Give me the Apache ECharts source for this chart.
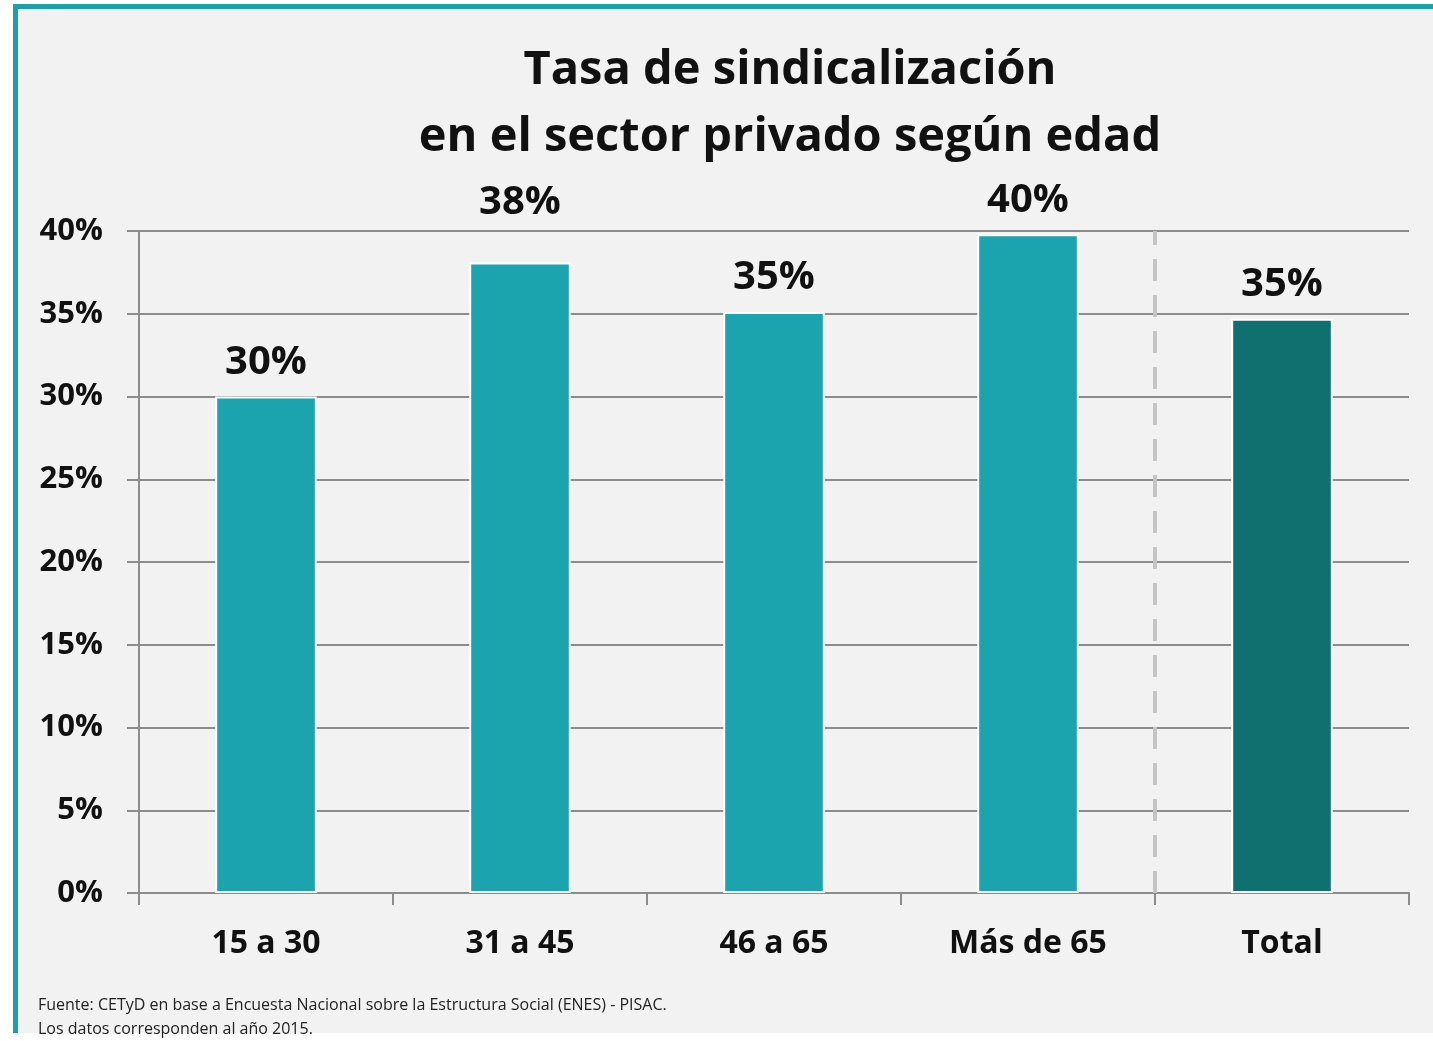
<!DOCTYPE html>
<html>
<head>
<meta charset="utf-8">
<script src="https://cdn.jsdelivr.net/npm/echarts@6/dist/echarts.min.js"></script>
<style>
  html, body { margin: 0; padding: 0; background: #ffffff; }
  #panel {
    position: absolute; left: 13px; top: 4px; width: 1420px; height: 1029px;
    background: #f2f2f2; border-left: 5px solid #1ba1a9; border-top: 5px solid #1ba1a9;
    box-sizing: border-box;
  }
  #chart { position: absolute; left: 0; top: 0; width: 1433px; height: 1041px; }
</style>
</head>
<body>
<div id="panel"></div>
<div id="chart"></div>
<script>
// 数据
var categories = ['15 a 30', '31 a 45', '46 a 65', 'Más de 65', 'Total'];
var values = [30.0, 38.1, 35.1, 39.8, 34.7];
var barColors = ['#1ba3ae', '#1ba3ae', '#1ba3ae', '#1ba3ae', '#0f706f'];
var yTicks = [0, 5, 10, 15, 20, 25, 30, 35, 40];
var separatorAt = [4];

var chart = echarts.init(document.getElementById('chart'));

// 31 a 45 的标签在原图中抬高了，避开 40% 网格线
var barData = values.map(function (v, i) {
  var item = { value: v };
  if (i === 1) item.label = { distance: 40 };
  return item;
});

var option = {
  backgroundColor: 'transparent',
  textStyle: { fontFamily: 'Open Sans' },
  title: [{
    text: 'Tasa de sindicalización\nen el sector privado según edad',
    left: 785, top: 32, textAlign: 'center',
    textStyle: { fontSize: 47, fontWeight: 'bold', color: '#111', lineHeight: 67, fontFamily: 'Open Sans' }
  }, {
    text: 'Fuente: CETyD en base a Encuesta Nacional sobre la Estructura Social (ENES) - PISAC.\nLos datos corresponden al año 2015.',
    left: 33, top: 988,
    textStyle: { fontSize: 16, fontWeight: 'normal', color: '#222', lineHeight: 24, fontFamily: 'Open Sans' }
  }],
  grid: { left: 139, right: 24, top: 231, bottom: 148, containLabel: false },
  xAxis: [{
    type: 'category',
    data: categories,
    axisLine: { lineStyle: { color: '#8c8c8c', width: 2 } },
    axisTick: { show: true, length: 12, lineStyle: { color: '#8c8c8c', width: 2 } },
    axisLabel: { margin: 35, fontSize: 32, fontWeight: 'bold', color: '#111' }
  }, {
    type: 'value', min: 0, max: categories.length, show: false
  }],
  yAxis: {
    type: 'value', min: 0, max: 40, interval: 5,
    axisLine: { show: true, lineStyle: { color: '#8c8c8c', width: 2 } },
    axisTick: { show: true, length: 12, lineStyle: { color: '#8c8c8c', width: 2 } },
    splitLine: { show: true, lineStyle: { color: '#8c8c8c', width: 2 } },
    axisLabel: {
      margin: 36, fontSize: 31, fontWeight: 'bold', color: '#111',
      formatter: function (v) { return yTicks.indexOf(v) >= 0 ? v + '%' : ''; }
    }
  },
  series: [{
    type: 'bar',
    data: barData,
    barWidth: '40%',
    itemStyle: {
      borderColor: '#ffffff', borderWidth: 2,
      color: function (p) { return barColors[p.dataIndex]; }
    },
    label: {
      show: true, position: 'top', distance: 14,
      fontSize: 40, fontWeight: 'bold', color: '#111',
      formatter: function (p) { return Math.round(p.value) + '%'; }
    }
  }, {
    type: 'scatter',
    xAxisIndex: 1,
    data: [],
    markLine: {
      silent: true, symbol: 'none', label: { show: false },
      lineStyle: { color: '#c4c4c4', width: 4, type: [22, 14] },
      data: separatorAt.map(function (x) { return { xAxis: x }; })
    }
  }]
};

chart.setOption(option);
</script>
</body>
</html>
